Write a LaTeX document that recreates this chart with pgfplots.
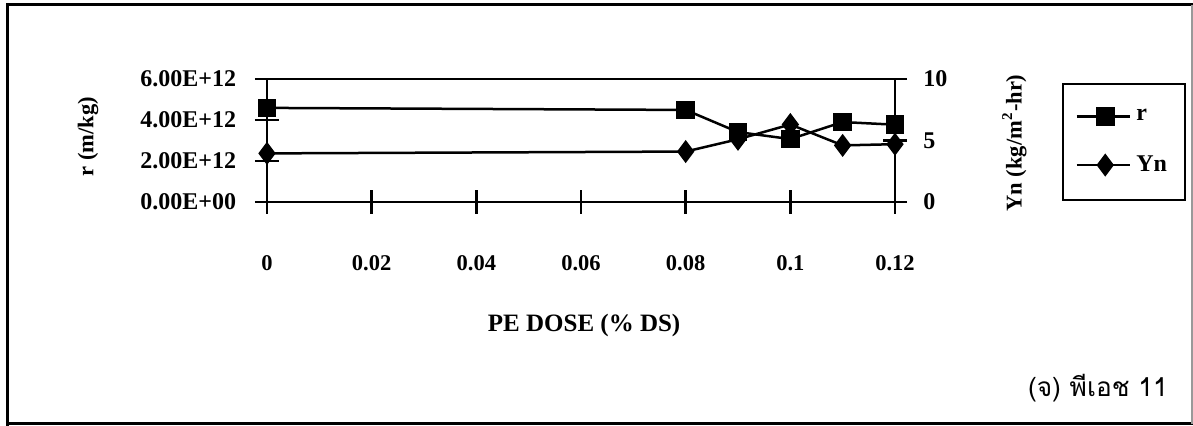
\documentclass[border=0pt]{standalone}
\usepackage{pgfplots}
\pgfplotsset{compat=1.18}
\usepackage{fontspec}
\setmainfont{Liberation Serif}
\newfontfamily\thaifont[Script=Thai]{Loma}
\begin{document}
\begin{tikzpicture}
\useasboundingbox (0pt,0pt) rectangle (477.2pt,170.4pt);
\draw[line width=1.2pt] (2.8pt,0pt) -- (2.8pt,168.4pt) -- (477.2pt,168.4pt);
\draw[line width=1.2pt] (2.8pt,0.8pt) -- (477.2pt,0.8pt);
\draw[line width=0.5pt, black!40] (476.8pt,0.8pt) -- (476.8pt,168.4pt);
\begin{axis}[
  at={(106.8pt,89.6pt)}, anchor=south west,
  scale only axis, width=251.2pt, height=49.2pt,
  xmin=0, xmax=0.12, ymin=0, ymax=6e12,
  scaled y ticks=false, scaled x ticks=false,
  axis line style={line width=1pt},
  xtick={0,0.02,0.04,0.06,0.08,0.1,0.12},
  xticklabels={0,0.02,0.04,0.06,0.08,0.1,0.12},
  xtick pos=bottom, ytick pos=left,
  ytick={0,2e12,4e12,6e12},
  yticklabels={0.00E+00,2.00E+12,4.00E+12,6.00E+12},
  tick align=center, major tick length=9.6pt,
  tick style={line width=1pt, black},
  /pgf/number format/assume math mode=true,
  tick label style={font=\fontsize{9}{11}\selectfont\bfseries},
  xticklabel style={yshift=-13pt},
  yticklabel style={xshift=-4pt, font=\fontsize{9.6}{11}\selectfont\bfseries},
  xlabel={PE DOSE (\% DS)},
  xlabel style={font=\fontsize{10}{12}\selectfont\bfseries, at={(rel axis cs:0.505,-1.0)}, anchor=center},
  ylabel={r (m/kg)},
  ylabel style={font=\fontsize{9}{11}\selectfont\bfseries, at={(rel axis cs:-0.285,0.53)}, anchor=center, rotate=0},
  clip=false,
]
\addplot[black, line width=1pt, mark=square*, mark size=3.2pt] coordinates {
 (0,4.59e12) (0.08,4.49e12) (0.09,3.41e12) (0.1,3.07e12) (0.11,3.9e12) (0.12,3.77e12)};
\node[font=\thaifont\fontsize{10.5}{12}\selectfont] at (rel axis cs:1.323,-1.512) {(จ) พีเอช 11};
\end{axis}
\begin{axis}[
  at={(106.8pt,89.6pt)}, anchor=south west,
  scale only axis, width=251.2pt, height=49.2pt,
  xmin=0, xmax=0.12, ymin=0, ymax=10,
  hide x axis,
  axis y line*=right,
  axis line style={line width=1pt},
  ytick={0,5,10},
  tick align=center, major tick length=9.6pt,
  tick style={line width=1pt, black},
  /pgf/number format/assume math mode=true,
  tick label style={font=\fontsize{9.6}{11}\selectfont\bfseries},
  yticklabel style={xshift=3pt},
  ylabel={Yn (kg/m\textsuperscript{2}-hr)},
  ylabel style={font=\fontsize{9}{11}\selectfont\bfseries, at={(rel axis cs:1.19,0.48)}, anchor=center, rotate=0},
  clip=false,
  legend style={draw=black, line width=0.8pt, at={(rel axis cs:1.266,0.968)}, anchor=north west,
    font=\fontsize{9.6}{11}\selectfont\bfseries, row sep=8.5pt, inner xsep=5pt, inner ysep=8pt,
    cells={anchor=west}},
  legend image code/.code={\draw[#1] (0cm,0cm) -- (0.75cm,0cm); \draw[#1, mark repeat=2, mark phase=2] plot coordinates {(0cm,0cm) (0.4cm,0cm) (0.75cm,0cm)};},
]
\addlegendimage{black, line width=1pt, mark=square*, mark size=3.2pt}
\addlegendentry{r}
\addplot[black, line width=1pt, mark=diamond*, mark size=3.8pt] coordinates {
 (0,3.95) (0.08,4.1) (0.09,5.1) (0.1,6.3) (0.11,4.6) (0.12,4.7)};
\addlegendentry{Yn}
\end{axis}
\end{tikzpicture}
\end{document}
